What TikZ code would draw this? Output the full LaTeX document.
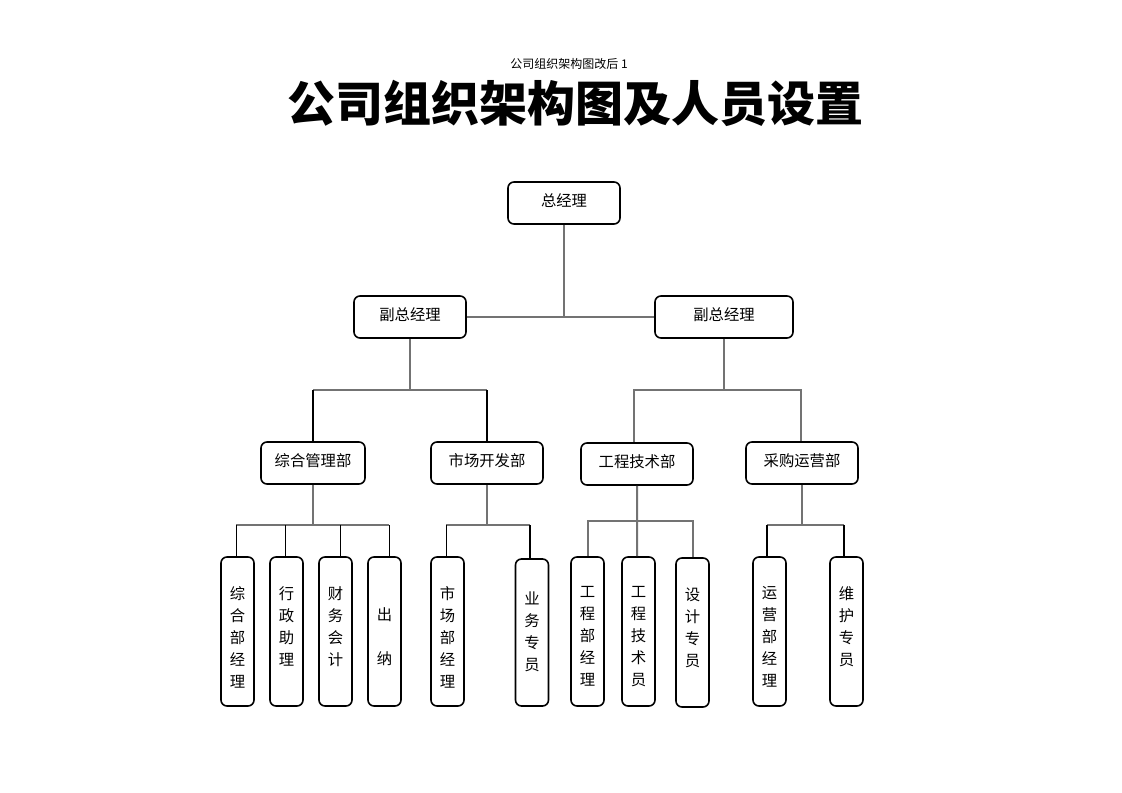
\documentclass[tikz,border=0pt]{standalone}
\usepackage{fontspec}
\setmainfont{Noto Sans CJK SC}
\begin{document}
\begin{tikzpicture}[x=0.75pt,y=-0.75pt,
 box/.style={draw, line width=1.2pt, rounded corners=4.5pt, minimum height=31.5pt, inner sep=0pt, text height=8.5pt, text depth=2.8pt, font=\fontsize{11.5}{13}\selectfont},
 leaf/.style={draw, line width=1.2pt, rounded corners=4.5pt, minimum width=24.75pt, minimum height=111.75pt, inner sep=0pt},
 leaftext/.style={anchor=north, align=center, inner sep=0pt, font=\fontsize{11.5}{16.5}\selectfont},
 trunk/.style={draw=black!55, line width=1.5pt},
 twig/.style={draw=black, line width=0.8pt}]
\useasboundingbox[fill=white] (0,0) rectangle (1122,793);

\node[font=\fontsize{9}{10}\selectfont] (hdr) at (569,64) {公司组织架构图改后 1};
\node[font=\bfseries\fontsize{36}{40}\selectfont] (title) at (575,103) {公司组织架构图及人员设置};

\node[box, minimum width=84pt] (gm) at (564,203) {总经理};
\node[box, minimum width=84pt] (vp1) at (410,317) {副总经理};
\node[box, minimum width=103.5pt] (vp2) at (724,317) {副总经理};

\node[box, minimum width=78pt] (d1) at (313,463) {综合管理部};
\node[box, minimum width=84pt] (d2) at (487,463) {市场开发部};
\node[box, minimum width=84pt] (d3) at (637,464) {工程技术部};
\node[box, minimum width=84pt] (d4) at (802,463) {采购运营部};

\node[leaf] (l1) at (237.5,631.5) {};
\node[leaf] (l2) at (286.5,631.5) {};
\node[leaf] (l3) at (335.5,631.5) {};
\node[leaf] (l4) at (384.5,631.5) {};
\node[leaf] (l5) at (447.5,631.5) {};
\node[leaf, minimum height=110.25pt] (l6) at (532,632.5) {};
\node[leaf] (l7) at (587.5,631.5) {};
\node[leaf] (l8) at (638.5,631.5) {};
\node[leaf] (l9) at (692.5,632.5) {};
\node[leaf] (l10) at (769.5,631.5) {};
\node[leaf] (l11) at (846.5,631.5) {};

\node[leaftext] (t1) at ([yshift=-22.5pt]l1.north) {综\\合\\部\\经\\理};
\node[leaftext] (t2) at ([yshift=-22.5pt]l2.north) {行\\政\\助\\理};
\node[leaftext] (t3) at ([yshift=-22.5pt]l3.north) {财\\务\\会\\计};
\node[leaftext] (t4) at ([yshift=-38.5pt]l4.north) {出\\[16.5pt]纳};
\node[leaftext] (t5) at ([yshift=-22.5pt]l5.north) {市\\场\\部\\经\\理};
\node[leaftext] (t6) at ([yshift=-25pt]l6.north) {业\\务\\专\\员};
\node[leaftext] (t7) at ([yshift=-22.5pt]l7.north) {工\\程\\部\\经\\理};
\node[leaftext] (t8) at ([yshift=-22.5pt]l8.north) {工\\程\\技\\术\\员};
\node[leaftext] (t9) at ([yshift=-22.5pt]l9.north) {设\\计\\专\\员};
\node[leaftext] (t10) at ([yshift=-22.5pt]l10.north) {运\\营\\部\\经\\理};
\node[leaftext] (t11) at ([yshift=-22.5pt]l11.north) {维\\护\\专\\员};

% top level
\draw[trunk] (gm.south) -- (gm.south |- vp1.east);
\draw[trunk] (vp1.east) -- (vp2.west);

\coordinate (y390) at (0,390);
\coordinate (y525) at (0,525);
\coordinate (y521) at (0,521);

% VP1 group
\coordinate (b1) at (vp1.south |- y390);
\draw[trunk] (vp1.south) -- (b1);
\draw[trunk] (d1.north |- b1) -- (d2.north |- b1);
\draw[twig] (d1.north) -- (d1.north |- b1);
\draw[twig] (d2.north) -- (d2.north |- b1);

% VP2 group
\coordinate (b2) at (vp2.south |- y390);
\draw[trunk] (vp2.south) -- (b2);
\draw[trunk] ([xshift=-2.2pt]d3.north) |- (b2) -| ([xshift=-0.8pt]d4.north);

% 综合管理部 group
\coordinate (b3) at (d1.south |- y525);
\draw[trunk] (d1.south) -- (b3);
\draw[trunk] ([xshift=-1.1pt]l1.north |- b3) -- ([xshift=3.4pt]l4.north |- b3);
\draw[twig] ([xshift=-1.1pt]l1.north) -- ([xshift=-1.1pt]l1.north |- b3);
\draw[twig] ([xshift=-1.1pt]l2.north) -- ([xshift=-1.1pt]l2.north |- b3);
\draw[twig] ([xshift=3.4pt]l3.north) -- ([xshift=3.4pt]l3.north |- b3);
\draw[twig] ([xshift=3.4pt]l4.north) -- ([xshift=3.4pt]l4.north |- b3);

% 市场开发部 group
\coordinate (b4) at (d2.south |- y525);
\draw[trunk] (d2.south) -- (b4);
\draw[trunk] ([xshift=-1.1pt]l5.north |- b4) -- ([xshift=-1.5pt]l6.north |- b4);
\draw[twig] ([xshift=-1.1pt]l5.north) -- ([xshift=-1.1pt]l5.north |- b4);
\draw[twig] ([xshift=-1.5pt]l6.north) -- ([xshift=-1.5pt]l6.north |- b4);

% 工程技术部 group
\coordinate (b5) at (d3.south |- y521);
\draw[trunk] (d3.south) -- ([xshift=-1.1pt]l8.north);
\draw[trunk] (l7.north) |- (b5) -| (l9.north);

% 采购运营部 group
\coordinate (b6) at (d4.south |- y525);
\draw[trunk] (d4.south) -- (b6);
\draw[trunk] ([xshift=-1.9pt]l10.north |- b6) -- ([xshift=-1.9pt]l11.north |- b6);
\draw[twig] ([xshift=-1.9pt]l10.north) -- ([xshift=-1.9pt]l10.north |- b6);
\draw[twig] ([xshift=-1.9pt]l11.north) -- ([xshift=-1.9pt]l11.north |- b6);
\end{tikzpicture}
\end{document}
